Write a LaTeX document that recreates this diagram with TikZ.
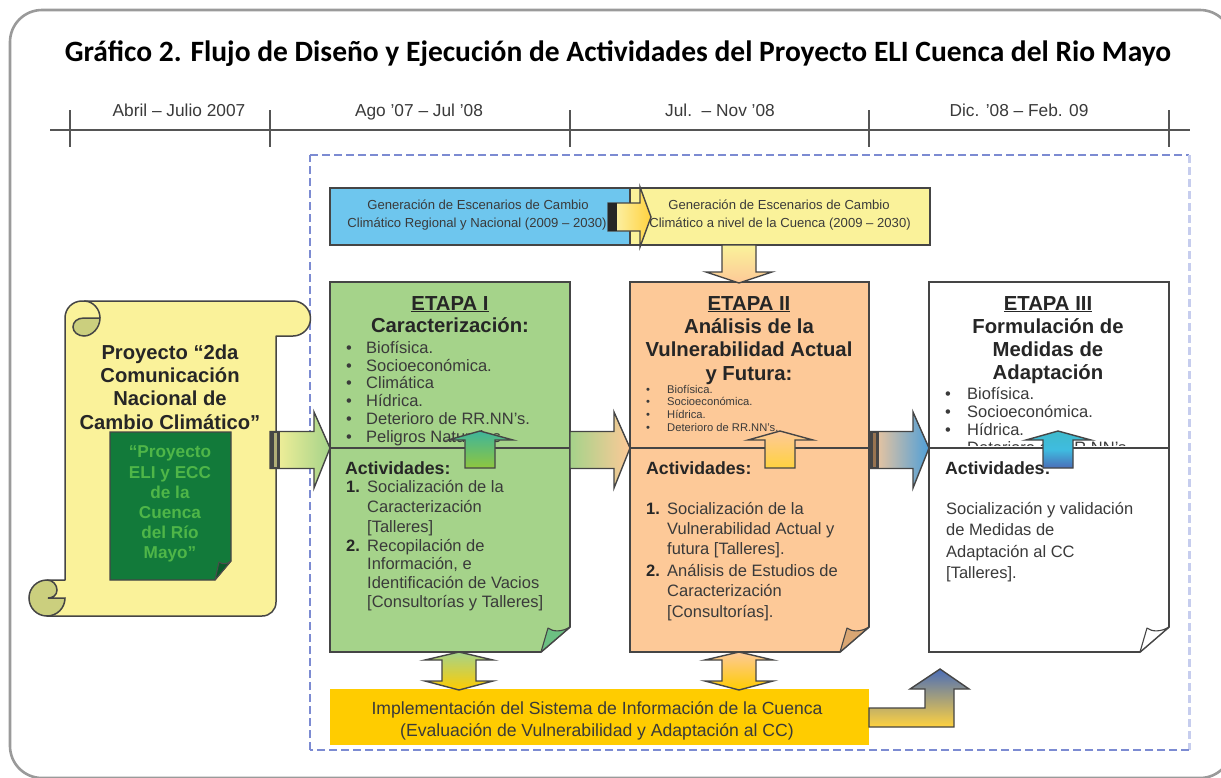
\documentclass[tikz,border=0pt]{standalone}
\usepackage{fontspec}
\setmainfont{Liberation Sans}
\newfontfamily\titlefont{Carlito}
\usetikzlibrary{calc}

\definecolor{edgegray}{HTML}{454545}
\definecolor{framegray}{HTML}{9A9A9A}
\definecolor{axisgray}{HTML}{555555}
\definecolor{textgray}{HTML}{3A3A3A}
\definecolor{dashblue}{HTML}{7C8BD2}
\definecolor{dashpale}{HTML}{C6CDEE}
\definecolor{scrollyellow}{HTML}{FAF29A}
\definecolor{curlolive}{HTML}{CBCF7E}
\definecolor{docgreen}{HTML}{127A3A}
\definecolor{docgreendark}{HTML}{0A5A2A}
\definecolor{doctext}{HTML}{4FB648}
\definecolor{skyblue}{HTML}{6EC6EE}
\definecolor{paleyellow}{HTML}{FAF29A}
\definecolor{leaf}{HTML}{A5D38A}
\definecolor{leafdark}{HTML}{6CC082}
\definecolor{peach}{HTML}{FDC998}
\definecolor{peachdark}{HTML}{D9A673}
\definecolor{gold}{HTML}{FFCC00}
\definecolor{goldsoft}{HTML}{FFD23F}
\definecolor{oceanblue}{HTML}{4F9FD8}
\definecolor{navy}{HTML}{4A6DB8}
\definecolor{cyan}{HTML}{3FBCE0}
\definecolor{sprout}{HTML}{8FC63F}
\definecolor{teal}{HTML}{3FB59A}

\tikzset{
  anchorbox/.style={inner sep=0pt,outer sep=0pt,anchor=north west},
  boxline/.style={draw=edgegray,line width=1.7pt,line join=miter},
  blockedge/.style={draw=edgegray,line width=1.4pt,line join=miter},
  axis/.style={draw=axisgray,line width=1.7pt},
  evenline/.style={text height=9.2pt,text depth=.2pt,inner sep=0pt},
  dateLabel/.style={evenline,yshift=-2pt,font=\fontsize{17.3}{20}\selectfont,text=textgray,anchor=center},
  headline/.style={evenline,yshift=-2.5pt,font=\bfseries\fontsize{20.3}{24}\selectfont,text=black!85,anchor=center},
  bodyline/.style={evenline,yshift=-2pt,font=\fontsize{16.5}{19}\selectfont,text=textgray,anchor=west},
  tinyline/.style={evenline,font=\fontsize{11.2}{13}\selectfont,text=textgray,anchor=west},
  actline/.style={evenline,yshift=-2pt,font=\bfseries\fontsize{17.7}{21}\selectfont,text=black!85,anchor=west},
  numline/.style={evenline,yshift=-2pt,font=\bfseries\fontsize{16.5}{19}\selectfont,text=black!85,anchor=west},
  climateline/.style={evenline,yshift=-.5pt,font=\fontsize{13.1}{15}\selectfont,text=textgray,anchor=center},
  scrollline/.style={evenline,yshift=-2.5pt,font=\bfseries\fontsize{20.2}{24}\selectfont,text=black!85,anchor=center},
  docline/.style={evenline,yshift=-2pt,font=\bfseries\fontsize{17.2}{20}\selectfont,text=doctext,anchor=center},
  baseline/.style={evenline,yshift=-2pt,font=\fontsize{17.6}{20}\selectfont,text=textgray,anchor=center},
}

% Stage sheet with a turned-up lower right corner
\newcommand{\foldsheet}[3]{%
  \draw[boxline,fill=#2]
    (#1.north west) -- (#1.north east) -- ($(#1.south east)+(0,-25)$)
    -- ($(#1.south east)+(-29,0)$) -- (#1.south west) -- cycle;
  \draw[draw=edgegray,line width=1.1pt,line join=round,fill=#3]
    ($(#1.south east)+(-29,0)$) -- ($(#1.south east)+(-22,-24)$)
    .. controls ($(#1.south east)+(-17,-20)$) and ($(#1.south east)+(-8,-20)$) .. ($(#1.south east)+(0,-25)$) -- cycle;
}

% Block arrow pointing right between two anchors on the same height
\newcommand{\rightblock}[4]{%
  \shadedraw[blockedge,left color=#3,right color=#4]
    ($#1+(0,-16.5)$) -- ($#2+(-16,-16.5)$) -- ($#2+(-16,-36)$) -- #2
    -- ($#2+(-16,40)$) -- ($#2+(-16,20.5)$) -- ($#1+(0,20.5)$) -- cycle;
}

% Dark double bar at the tail of a block arrow
\newcommand{\tailbars}[2]{%
  \fill[edgegray] ($#1+(0,-16.5)$) rectangle ($#1+(10,20.5)$);
  \fill[#2] ($#1+(4,-15)$) rectangle ($#1+(7,19)$);
}

% Short block arrow pointing up across a stage divider
\newcommand{\upblock}[3]{%
  \shadedraw[blockedge,bottom color=#2,top color=#3]
    ($#1+(-15,20)$) -- ($#1+(-15,-8)$) -- ($#1+(-32,-8)$) -- ($#1+(0,-17)$)
    -- ($#1+(33,-8)$) -- ($#1+(15,-8)$) -- ($#1+(15,20)$) -- cycle;
}

% Block arrow with heads on both ends between an upper and a lower anchor
\newcommand{\twinblock}[4]{%
  \shadedraw[blockedge,top color=#3,bottom color=#4]
    #1 -- ($#1+(34,8)$) -- ($#1+(17,8)$) -- ($#2+(17,-9)$) -- ($#2+(34,-9)$) -- #2
    -- ($#2+(-34,-9)$) -- ($#2+(-17,-9)$) -- ($#1+(-17,8)$) -- ($#1+(-34,8)$) -- cycle;
}

\begin{document}
\begin{tikzpicture}[x=1pt,y=-1pt]
\useasboundingbox (0,0) rectangle (1221,777);
\fill[white] (0,0) rectangle (1221,777);

% Outer frame, running past the right and lower page edges
\begin{scope}
  \clip (0,0) rectangle (1221,777);
  \draw[framegray,line width=2.6pt,rounded corners=32pt] (10,10) rectangle (1232,778);
\end{scope}

\node[evenline,yshift=-5pt,font=\titlefont\bfseries\fontsize{29.5}{34}\selectfont,text=black] (title) at (618,52)
  {Gráfico 2. Flujo de Diseño y Ejecución de Actividades del Proyecto ELI Cuenca del Rio Mayo};

% Time axis
\coordinate (axisL) at (50,130);
\coordinate (axisR) at (1190,130);
\draw[axis] (axisL) -- (axisR);
\foreach \tx/\tn in {70/t1,270/t2,570/t3,869/t4,1169/t5}{
  \coordinate (\tn) at (\tx,130);
  \draw[axis] ($(\tn)+(0,-20)$) -- ($(\tn)+(0,17)$);
}
\node[dateLabel] (d1) at (179,110) {Abril – Julio 2007};
\node[dateLabel] (d2) at (419,110) {Ago '07 – Jul '08};
\node[dateLabel] (d3) at (720,110) {Jul.\ \ – Nov '08};
\node[dateLabel] (d4) at (1019,110) {Dic. '08 – Feb. 09};

% Dashed project boundary
\coordinate (bNW) at (310,155);
\coordinate (bNE) at (1189,155);
\coordinate (bSE) at (1189,750);
\coordinate (bSW) at (310,750);
\draw[dashblue,line width=2pt,dash pattern=on 8pt off 4pt] (bNW) -- (bNE);
\draw[dashpale,line width=3pt,dash pattern=on 8pt off 4pt] (bNE) -- (bSE);
\draw[dashblue,line width=2pt,dash pattern=on 8pt off 4pt] (bSE) -- (bSW);
\draw[dashblue,line width=2.4pt,dash pattern=on 8pt off 4pt] (bSW) -- (bNW);

% Scroll with the national communication project
\draw[draw=edgegray,line width=1.5pt,fill=scrollyellow,line join=round]
  (65,318) .. controls (65,308.5) and (72.5,301) .. (82,301) -- (293,301)
  .. controls (302.6,301) and (310.5,309) .. (310.5,318.5)
  .. controls (310.5,328) and (302.6,336) .. (293,336) -- (276,336)
  -- (276,602) .. controls (276,610) and (270,616) .. (262,616) -- (47,616)
  -- (47,580) -- (65,580) -- cycle;
\draw[draw=edgegray,line width=1.5pt,fill=curlolive]
  (100,318) -- (84,318) .. controls (77,318) and (73,322) .. (73,327)
  .. controls (73,332) and (78,336) .. (84,336)
  .. controls (92,336) and (100,328) .. (100,318) -- cycle;
\draw[draw=edgegray,line width=1.5pt]
  (84,301) .. controls (93,301) and (100,309) .. (100,318);
\draw[draw=edgegray,line width=1.5pt,fill=curlolive]
  (47,616) .. controls (37,616) and (29,608) .. (29,598)
  .. controls (29,588) and (37,580) .. (47,580)
  .. controls (53,580) and (57,585) .. (57,590)
  .. controls (57,595) and (53,598) .. (48,598) -- (65,598)
  .. controls (65,608) and (57,616) .. (47,616) -- cycle;
\node[anchorbox,minimum width=211pt,minimum height=315pt] (scroll) at (65,301) {};
\node[scrollline] (s1) at (170,352) {Proyecto “2da};
\node[scrollline] (s2) at (170,375) {Comunicación};
\node[scrollline] (s3) at (170,398) {Nacional de};
\node[scrollline] (s4) at (170,422) {Cambio Climático"};

% Green sheet inside the scroll
\node[anchorbox,minimum width=121pt,minimum height=148pt] (doc) at (110,432) {};
\draw[draw=edgegray,line width=1.2pt,fill=docgreen]
  (doc.north west) -- (doc.north east) -- ($(doc.south east)+(0,-19)$)
  -- ($(doc.south east)+(-16,0)$) -- (doc.south west) -- cycle;
\draw[draw=black!70,line width=1pt,line join=round,fill=docgreendark]
  ($(doc.south east)+(-16,0)$) -- ($(doc.south east)+(-12,-18)$)
  .. controls ($(doc.south east)+(-8,-15)$) and ($(doc.south east)+(-4,-16)$) .. ($(doc.south east)+(0,-19)$) -- cycle;
\node[docline] (e1) at (170,451) {“Proyecto};
\node[docline] (e2) at (170,472) {ELI y ECC};
\node[docline] (e3) at (170,492) {de la};
\node[docline] (e4) at (170,512) {Cuenca};
\node[docline] (e5) at (170,532) {del Río};
\node[docline] (e6) at (170,552) {Mayo"};

% Climate scenario boxes
\node[anchorbox,minimum width=300pt,minimum height=57pt,fill=skyblue,draw=edgegray,line width=1.7pt] (regional) at (330,188) {};
\node[anchorbox,minimum width=300pt,minimum height=57pt,fill=paleyellow,draw=edgegray,line width=1.7pt] (basin) at (630,188) {};
\node[climateline] (r1) at (478,204) {Generación de Escenarios de Cambio};
\node[climateline] (r2) at (477,222) {Climático Regional y Nacional (2009 – 2030)};

% Stage sheets
\node[anchorbox,minimum width=240pt,minimum height=370pt] (stageA) at (330,282) {};
\node[anchorbox,minimum width=239pt,minimum height=370pt] (stageB) at (630,282) {};
\node[anchorbox,minimum width=240pt,minimum height=370pt] (stageC) at (929,282) {};
\coordinate (divA) at (330,448);
\foldsheet{stageA}{leaf}{leafdark}
\foldsheet{stageB}{peach}{peachdark}
\foldsheet{stageC}{white}{white}

% Divider lines at the height shared by the horizontal arrows
\draw[boxline] (stageA.west |- divA) -- (stageA.east |- divA);
\draw[boxline] (stageB.west |- divA) -- (stageB.east |- divA);
\draw[boxline] (stageC.west |- divA) -- (stageC.east |- divA);

% Stage I text
\node[headline] (a0) at (450,303) {\underline{ETAPA I}};
\node[headline] (a1) at (450,325) {Caracterización:};
\foreach \ty/\tt in {347/Biofísica.,365/Socioeconómica.,382/Climática,400/Hídrica.,418/Deterioro de RR.NN's.,436/Peligros Naturales}{
  \node[bodyline] at (346,\ty) {•};
  \node[bodyline] at (366,\ty) {\tt};
}
\node[actline] (a2) at (345,468) {Actividades:};
\node[numline] (a3) at (346,486) {1.};
\node[bodyline] (a4) at (367,486) {Socialización de la};
\node[bodyline] (a5) at (367,506) {Caracterización};
\node[bodyline] (a6) at (367,526) {[Talleres]};
\node[numline] (a7) at (346,545) {2.};
\node[bodyline] (a8) at (367,545) {Recopilación de};
\node[bodyline] (a9) at (367,563) {Información, e};
\node[bodyline] (a10) at (367,582) {Identificación de Vacios};
\node[bodyline] (a11) at (367,601) {[Consultorías y Talleres]};

% Stage II text
\node[headline] (b0) at (749,303) {\underline{ETAPA II}};
\node[headline] (b1) at (749,326) {Análisis de la};
\node[headline] (b2) at (749,349) {Vulnerabilidad Actual};
\node[headline] (b3) at (749,373) {y Futura:};
\foreach \ty/\tt in {389/Biofísica.,401/Socioeconómica.,414/Hídrica.,427/Deterioro de RR.NN's.}{
  \node[tinyline] at (646,\ty) {•};
  \node[tinyline] at (667,\ty) {\tt};
}
\node[actline] (b4) at (646,468) {Actividades:};
\node[numline] (b5) at (646,508) {1.};
\node[bodyline] (b6) at (667,508) {Socialización de la};
\node[bodyline] (b7) at (667,528) {Vulnerabilidad Actual y};
\node[bodyline] (b8) at (667,548) {futura [Talleres].};
\node[numline] (b9) at (646,570) {2.};
\node[bodyline] (b10) at (667,570) {Análisis de Estudios de};
\node[bodyline] (b11) at (667,590) {Caracterización};
\node[bodyline] (b12) at (667,611) {[Consultorías].};

% Stage III text
\node[headline] (c0) at (1048,303) {\underline{ETAPA III}};
\node[headline] (c1) at (1048,326) {Formulación de};
\node[headline] (c2) at (1048,349) {Medidas de};
\node[headline] (c3) at (1048,372) {Adaptación};
\foreach \ty/\tt in {393/Biofísica.,411/Socioeconómica.,429/Hídrica.}{
  \node[bodyline] at (945,\ty) {•};
  \node[bodyline] at (967,\ty) {\tt};
}
\begin{scope}
  \clip (930,438) rectangle (1168,445);
  \node[bodyline] (c4) at (967,447) {Deterioro de RR.NN's.};
\end{scope}
\node[actline] (c5) at (945,468) {Actividades:};
\node[bodyline] (c6) at (946,508) {Socialización y validación};
\node[bodyline] (c7) at (946,529) {de Medidas de};
\node[bodyline] (c8) at (946,551) {Adaptación al CC};
\node[bodyline] (c9) at (946,572) {[Talleres].};

% Information system bar
\node[anchorbox,minimum width=539pt,minimum height=56pt,fill=gold] (infosys) at (330,689) {};
\node[baseline] (i1) at (597,708) {Implementación del Sistema de Información de la Cuenca};
\node[baseline] (i2) at (597,730) {(Evaluación de Vulnerabilidad y Adaptación al CC)};

% Arrow from the regional to the basin scenario box
\coordinate (rTail) at (608,217);
\coordinate (rTip) at (651,217);
\shadedraw[blockedge,left color=paleyellow!70!white,right color=goldsoft]
  ($(rTail)+(0,-14)$) -- ($(rTip)+(-11,-14)$) -- ($(rTip)+(-11,-30)$) -- (rTip)
  -- ($(rTip)+(-11,30)$) -- ($(rTip)+(-11,14)$) -- ($(rTail)+(0,14)$) -- cycle;
\fill[black!85] ($(rTail)+(0,-14)$) rectangle ($(rTail)+(9,14)$);
\node[climateline] (y1) at (779,204) {Generación de Escenarios de Cambio};
\node[climateline] (y2) at (780,222) {Climático a nivel de la Cuenca (2009 – 2030)};

% Arrow from the basin scenario box down to stage II
\coordinate (dTail) at (739,245);
\coordinate (dTip) at (739,283);
\shadedraw[blockedge,top color=paleyellow,bottom color=peach]
  ($(dTail)+(-17,0)$) -- ($(dTip)+(-17,-11)$) -- ($(dTip)+(-33,-11)$) -- (dTip)
  -- ($(dTip)+(33,-11)$) -- ($(dTip)+(17,-11)$) -- ($(dTail)+(17,0)$) -- cycle;

% Horizontal arrows between the project and the stages
\coordinate (scrollTail) at (270,448);
\rightblock{(scrollTail)}{(stageA.west |- divA)}{paleyellow}{leaf}
\tailbars{(scrollTail)}{scrollyellow!60!edgegray}
\rightblock{(stageA.east |- divA)}{(stageB.west |- divA)}{leaf}{peach}
\rightblock{(stageB.east |- divA)}{(stageC.west |- divA)}{peach}{oceanblue}
\tailbars{(stageB.east |- divA)}{peachdark!70!black}

% Arrows crossing the stage dividers
\coordinate (upA) at (480,448);
\coordinate (upB) at (780,448);
\coordinate (upC) at (1058,448);
\upblock{(upA)}{sprout}{teal}
\upblock{(upB)}{goldsoft}{peach}
\shadedraw[blockedge,bottom color=navy,top color=cyan!70!teal,middle color=cyan]
  ($(upC)+(-15,20)$) -- ($(upC)+(-15,-8)$) -- ($(upC)+(-32,-8)$) -- ($(upC)+(0,-17)$)
  -- ($(upC)+(33,-8)$) -- ($(upC)+(15,-8)$) -- ($(upC)+(15,20)$) -- cycle;

% Arrows between the stages and the information system
\coordinate (twinAtop) at (459,652);
\coordinate (twinAbot) at (459,690);
\coordinate (twinBtop) at (739,652);
\coordinate (twinBbot) at (739,690);
\twinblock{(twinAtop)}{(twinAbot)}{leaf}{gold}
\twinblock{(twinBtop)}{(twinBbot)}{peach}{gold}

% Bent arrow from the information system towards stage III
\shadedraw[blockedge,top color=navy,bottom color=goldsoft]
  (infosys.east |- 0,708) -- (925,708) -- (925,689) -- (910,689) -- (940,669)
  -- (969,689) -- (954,689) -- (954,727) -- (infosys.east |- 0,727) -- cycle;
\end{tikzpicture}
\end{document}
